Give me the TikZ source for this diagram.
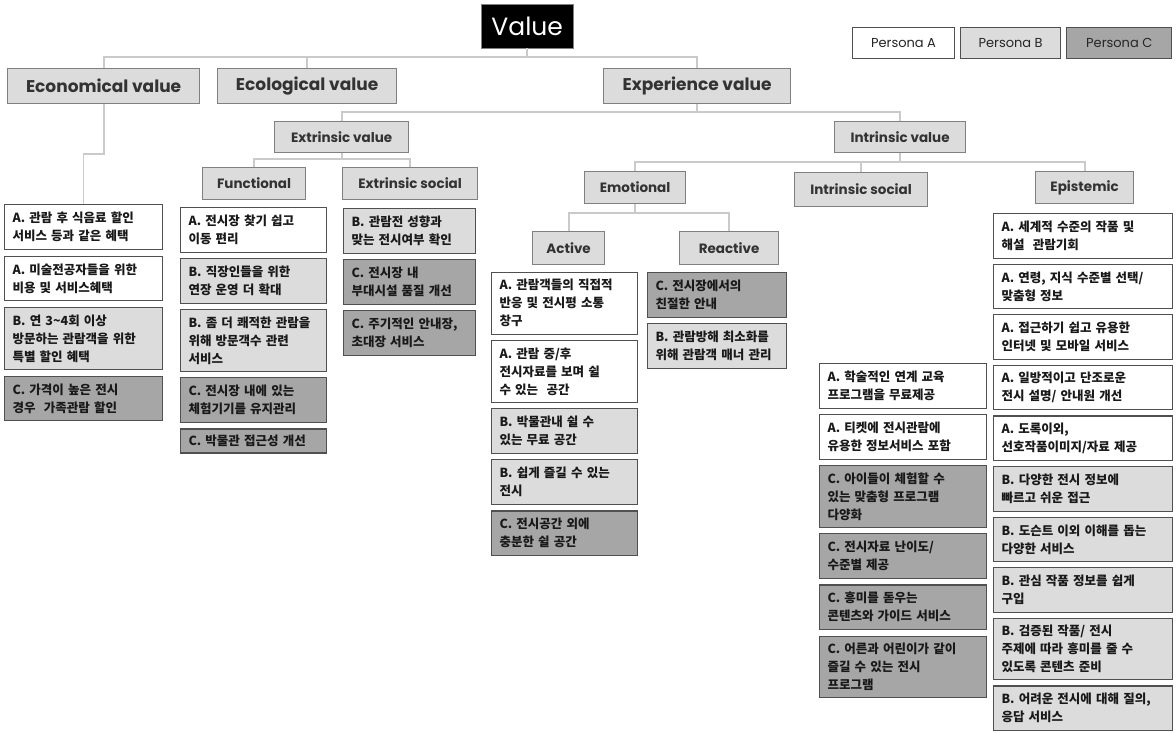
\documentclass[tikz,border=0pt]{standalone}
\usepackage{fontspec}
\setmainfont{Poppins}
\newfontfamily\kr{Noto Sans CJK KR}
\usetikzlibrary{positioning}

\definecolor{boxb}{HTML}{DCDCDC}
\definecolor{boxc}{HTML}{A6A6A6}
\definecolor{wire}{HTML}{CACACA}
\definecolor{rim}{HTML}{505050}

\tikzset{
  head/.style={draw=gray, line width=1.2pt, fill=boxb, text=black!80, anchor=north west, inner sep=0pt},
  big/.style={head, font=\bfseries\fontsize{17}{20}\selectfont},
  mid/.style={head, font=\bfseries\fontsize{13.5}{16}\selectfont},
  card/.style={draw=rim, line width=1.1pt, align=left, inner xsep=8pt, inner ysep=3pt, text=black!90, font=\kr\bfseries\fontsize{12.5}{18}\selectfont},
  pa/.style={card, fill=white},
  pb/.style={card, fill=boxb},
  pc/.style={card, fill=boxc},
  one/.style={minimum height=24pt},
  two/.style={minimum height=44.5pt},
  three/.style={minimum height=61.5pt},
  persona/.style={draw=rim, line width=1.1pt, minimum height=31pt, inner sep=0pt, text=black!85, font=\fontsize{13}{15}\selectfont}
}

\begin{document}
\begin{tikzpicture}[x=1pt, y=-1pt, node distance=5.5pt]
  \path[use as bounding box, fill=white] (0,0) rectangle (1176,732);

  \node[anchor=north west, draw=gray, fill=black, text=white, minimum width=92pt, minimum height=44pt, inner sep=0pt, font=\fontsize{25}{28}\selectfont] (value) at (481,4) {Value};

  \node[persona, anchor=north west, fill=white, minimum width=102pt] (pA) at (852,27) {Persona A};
  \node[persona, fill=boxb, minimum width=100pt, right=5pt of pA] (pB) {Persona B};
  \node[persona, fill=boxc, minimum width=105pt, right=5pt of pB] (pC) {Persona C};

  \node[big, minimum width=192pt, minimum height=35pt] (econ) at (7,68) {Economical value};
  \node[big, minimum width=179pt, minimum height=35pt] (ecol) at (217,68) {Ecological value};
  \node[big, minimum width=187pt, minimum height=35pt] (expe) at (603,68) {Experience value};

  \node[mid, minimum width=134pt, minimum height=31pt] (extr) at (274,121) {Extrinsic value};
  \node[mid, minimum width=131pt, minimum height=31pt] (intr) at (834,121) {Intrinsic value};

  \node[mid, minimum width=103pt, minimum height=32pt] (func) at (202,167) {Functional};
  \node[mid, minimum width=135pt, minimum height=32pt] (exso) at (342,167) {Extrinsic social};
  \node[mid, minimum width=101pt, minimum height=32pt] (emot) at (584,171) {Emotional};
  \node[mid, minimum width=133pt, minimum height=34pt] (inso) at (794,172) {Intrinsic social};
  \node[mid, minimum width=98pt, minimum height=32pt] (epis) at (1035,171) {Epistemic};

  \node[mid, minimum width=72pt, minimum height=33pt] (acti) at (532,231) {Active};
  \node[mid, minimum width=99pt, minimum height=33pt] (reac) at (679,231) {Reactive};

  \begin{scope}[node distance=6pt, every node/.append style={text width=142pt}]
    \node[pa, two, anchor=north west] (eco1) at (4,204) {A. 관람 후 식음료 할인\\서비스 등과 같은 혜택};
    \node[pa, two, below=of eco1] (eco2) {A. 미술전공자들을 위한\\비용 및 서비스혜택};
    \node[pb, three, below=of eco2] (eco3) {B. 연 3\textasciitilde 4회 이상\\방문하는 관람객을 위한\\특별 할인 혜택};
    \node[pc, two, below=of eco3] (eco4) {C. 가격이 높은 전시\\경우\ \ 가족관람 할인};
  \end{scope}

  \begin{scope}[every node/.append style={text width=130pt}]
    \node[pa, two, anchor=north west] (fun1) at (180,207) {A. 전시장 찾기 쉽고\\이동 편리};
    \node[pb, two, below=of fun1] (fun2) {B. 직장인들을 위한\\연장 운영 더 확대};
    \node[pb, three, below=of fun2] (fun3) {B. 좀 더 쾌적한 관람을\\위해 방문객수 관련\\서비스};
    \node[pc, two, below=of fun3] (fun4) {C. 전시장 내에 있는\\체험기기를 유지관리};
    \node[pc, one, below=of fun4] (fun5) {C. 박물관 접근성 개선};
  \end{scope}

  \begin{scope}[every node/.append style={text width=116pt}]
    \node[pb, two, anchor=north west] (exs1) at (343,208) {B. 관람전 성향과\\맞는 전시여부 확인};
    \node[pc, two, below=of exs1] (exs2) {C. 전시장 내\\부대시설 품질 개선};
    \node[pc, two, below=of exs2] (exs3) {C. 주기적인 안내장,\\초대장 서비스};
  \end{scope}

  \begin{scope}[every node/.append style={text width=130pt}]
    \node[pa, three, anchor=north west] (act1) at (491,272) {A. 관람객들의 직접적\\반응 및 전시평 소통\\창구};
    \node[pa, three, below=of act1] (act2) {A. 관람 중/후\\전시자료를 보며 쉴\\수 있는\ \ 공간};
    \node[pb, two, below=of act2] (act3) {B. 박물관내 쉴 수\\있는 무료 공간};
    \node[pb, two, below=of act3] (act4) {B. 쉽게 즐길 수 있는\\전시};
    \node[pc, two, below=of act4] (act5) {C. 전시공간 외에\\충분한 쉴 공간};
  \end{scope}

  \begin{scope}[every node/.append style={text width=123pt}]
    \node[pc, two, anchor=north west] (rea1) at (647,272) {C. 전시장에서의\\친절한 안내};
    \node[pb, two, below=of rea1] (rea2) {B. 관람방해 최소화를\\위해 관람객 매너 관리};
  \end{scope}

  \begin{scope}[every node/.append style={text width=151pt}]
    \node[pa, two, anchor=north west] (ins1) at (819,363) {A. 학술적인 연계 교육\\프로그램을 무료제공};
    \node[pa, two, below=of ins1] (ins2) {A. 티켓에 전시관람에\\유용한 정보서비스 포함};
    \node[pc, three, below=of ins2] (ins3) {C. 아이들이 체험할 수\\있는 맞춤형 프로그램\\다양화};
    \node[pc, two, below=of ins3] (ins4) {C. 전시자료 난이도/\\수준별 제공};
    \node[pc, two, below=of ins4] (ins5) {C. 흥미를 돋우는\\콘텐츠와 가이드 서비스};
    \node[pc, three, below=of ins5] (ins6) {C. 어른과 어린이가 같이\\즐길 수 있는 전시\\프로그램};
  \end{scope}

  \begin{scope}[node distance=5pt, every node/.append style={text width=163pt}]
    \node[pa, two, anchor=north west] (epi1) at (993,213) {A. 세계적 수준의 작품 및\\해설\ \ 관람기회};
    \node[pa, two, below=of epi1] (epi2) {A. 연령, 지식 수준별 선택/\\맞춤형 정보};
    \node[pa, two, below=of epi2] (epi3) {A. 접근하기 쉽고 유용한\\인터넷 및 모바일 서비스};
    \node[pa, two, below=of epi3] (epi4) {A. 일방적이고 단조로운\\전시 설명/ 안내원 개선};
    \node[pa, two, below=of epi4] (epi5) {A. 도록이외,\\선호작품이미지/자료 제공};
    \node[pb, two, below=of epi5] (epi6) {B. 다양한 전시 정보에\\빠르고 쉬운 접근};
    \node[pb, two, below=of epi6] (epi7) {B. 도슨트 이외 이해를 돕는\\다양한 서비스};
    \node[pb, two, below=of epi7] (epi8) {B. 관심 작품 정보를 쉽게\\구입};
    \node[pb, three, below=of epi8] (epi9) {B. 검증된 작품/ 전시\\주제에 따라 흥미를 줄 수\\있도록 콘텐츠 준비};
    \node[pb, two, below=of epi9] (epi10) {B. 어려운 전시에 대해 질의,\\응답 서비스};
  \end{scope}

  \begin{scope}[draw=wire, line width=1.8pt]
    \draw (econ.north) -- ++(0,-11) -| (expe.north);
    \draw (ecol.north) -- ++(0,-11);
    \draw (value.south) -- ++(0,9);
    \draw (extr.north) -- ++(0,-9) -| (intr.north);
    \draw (expe.south) -- ++(0,9);
    \draw (func.north) -- ++(0,-8) -| (exso.north);
    \draw (extr.south) -- ++(0,7);
    \draw (emot.north) -- ++(0,-9) -| (epis.north);
    \draw (inso.north) -- ++(0,-10);
    \draw (intr.south) -- ++(0,10);
    \draw (acti.north) -- ++(0,-18) -| (reac.north);
    \draw (emot.south) -- ++(0,10);
    \draw (econ.south) -- ++(0,50) -| (eco1.north);
  \end{scope}
\end{tikzpicture}
\end{document}
